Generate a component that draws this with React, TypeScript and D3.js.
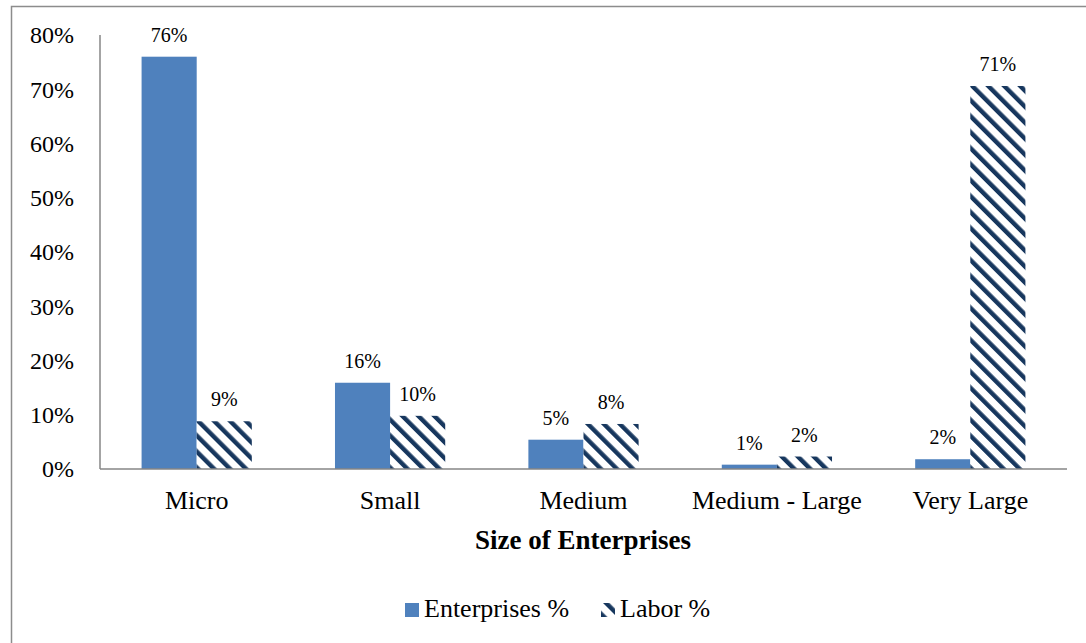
import React from "react";
import * as d3 from "d3";

const categories = ["Micro", "Small", "Medium", "Medium - Large", "Very Large"];
const enterprises = [76, 15.9, 5.4, 0.8, 1.8];
const labor = [8.8, 9.8, 8.3, 2.3, 70.6];
const yTicks = [0, 10, 20, 30, 40, 50, 60, 70, 80];
const seriesNames = ["Enterprises %", "Labor %"];

const W = 1086;
const H = 643;
const FONT = "'Liberation Serif', 'Times New Roman', serif";
const BLUE = "#4F81BD";
const NAVY = "#17375E";

export default function App() {
  const x0 = d3.scaleBand<string>().domain(categories).range([100, 1067]).paddingInner(0.43).paddingOuter(0.215);
  const x1 = d3.scaleBand<string>().domain(seriesNames).range([0, x0.bandwidth()]);
  const y = d3.scaleLinear().domain([0, 80]).range([469, 35]);

  const series = [enterprises, labor];
  const fills = [BLUE, "url(#hatch)"];

  return (
    <svg width={W} height={H} style={{ position: "absolute", left: 0, top: 0, background: "#fff" }} fontFamily={FONT}>
      <defs>
        <pattern id="hatch" patternUnits="userSpaceOnUse" width={11.3} height={11.3} patternTransform="rotate(-45)">
          <rect x={0} y={0} width={11.3} height={11.3} fill="#fff" />
          <rect x={0} y={0} width={4.4} height={11.3} fill={NAVY} />
        </pattern>
      </defs>
      <rect x={11.5} y={6.5} width={1200} height={800} fill="none" stroke="#8c8c8c" strokeWidth={1.5} />

      {/* y tick labels */}
      {yTicks.map((t) => (
        <text key={t} x={74} y={y(t)} dy="0.35em" textAnchor="end" fontSize={24} fill="#000">
          {t}%
        </text>
      ))}

      {/* bars */}
      {categories.map((c, i) => (
        <g key={c} transform={`translate(${x0(c)},0)`}>
          {series.map((s, j) => (
            <g key={j}>
              <rect
                x={x1(seriesNames[j])}
                y={y(s[i])}
                width={x1.bandwidth()}
                height={y(0) - y(s[i])}
                fill={fills[j]}
              />
              <text
                x={(x1(seriesNames[j]) as number) + x1.bandwidth() / 2}
                y={y(s[i]) - 15}
                textAnchor="middle"
                fontSize={20}
                fill="#000"
              >
                {Math.round(s[i])}%
              </text>
            </g>
          ))}
        </g>
      ))}

      {/* axes lines */}
      <line x1={100} x2={100} y1={35} y2={469} stroke="#868686" strokeWidth={1.5} />
      <line x1={100} x2={1067} y1={469} y2={469} stroke="#868686" strokeWidth={1.5} />

      {/* category labels */}
      {categories.map((c) => (
        <text key={c} x={(x0(c) as number) + x0.bandwidth() / 2} y={509} textAnchor="middle" fontSize={26} fill="#000">
          {c}
        </text>
      ))}

      <text x={583} y={549} textAnchor="middle" fontSize={27} fontWeight="bold" fill="#000">
        Size of Enterprises
      </text>

      {/* legend */}
      <rect x={405} y={603} width={14} height={14} fill={BLUE} />
      <text x={424} y={617} fontSize={26} fill="#000">{seriesNames[0]}</text>
      <rect x={601} y={603} width={14} height={14} fill="url(#hatch)" />
      <text x={620} y={617} fontSize={26} fill="#000">{seriesNames[1]}</text>
    </svg>
  );
}
